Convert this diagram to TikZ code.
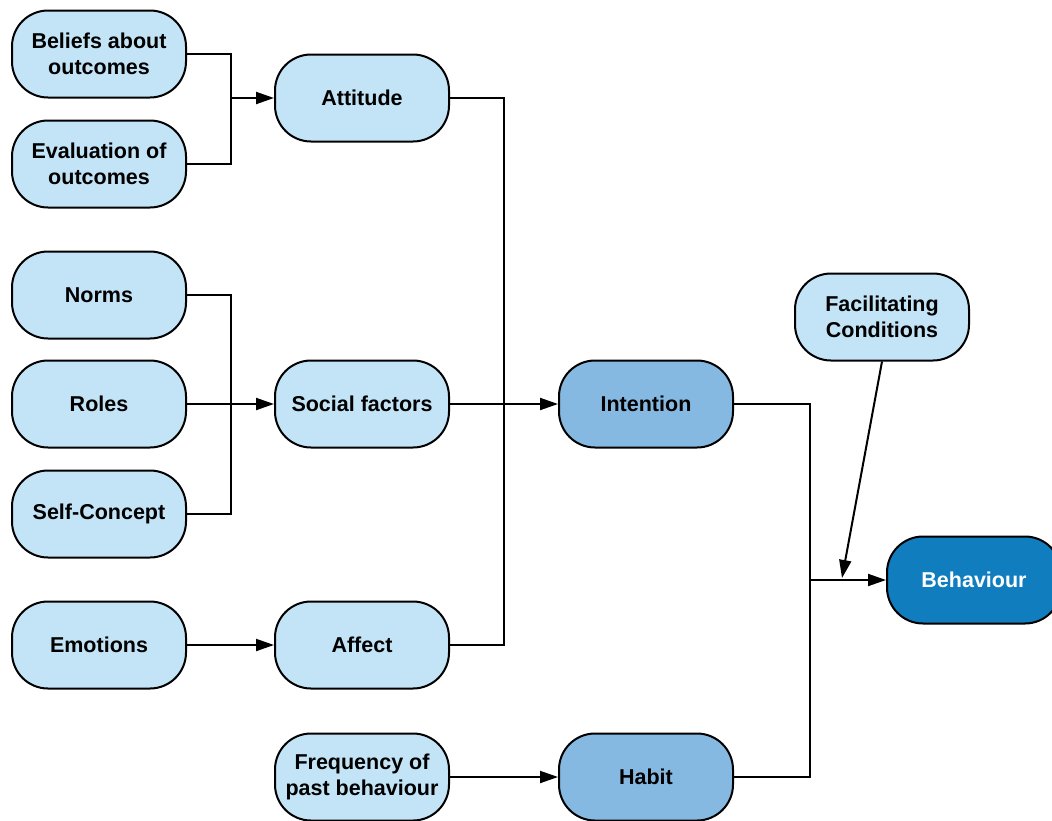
\documentclass[tikz,border=0pt]{standalone}
\usepackage{fontspec}
\setmainfont{Liberation Sans}
\usetikzlibrary{arrows.meta}
\definecolor{paleblue}{RGB}{194,228,246}
\definecolor{midblue}{RGB}{133,185,226}
\definecolor{deepblue}{RGB}{16,125,190}
\begin{document}
\begin{tikzpicture}[x=1pt,y=-1pt,
  box/.style={draw=black, line width=2pt, rounded corners=36pt,
    minimum width=174pt, minimum height=87pt, inner sep=0pt, align=center,
    font=\bfseries\fontsize{21.5}{25.5}\selectfont, fill=paleblue},
  midbox/.style={box, fill=midblue},
  deepbox/.style={box, fill=deepblue, text=white},
  conn/.style={line width=2pt},
  arr/.style={conn, -{Triangle[length=18pt,width=12pt]}}]
\useasboundingbox (0,0) rectangle (1052,820);

% nodes
\node[box] (beliefs) at (99,54) {Beliefs about\\outcomes};
\node[box] (evaluation) at (99,164) {Evaluation of\\outcomes};
\node[box] (attitude) at (362,98) {Attitude};
\node[box] (norms) at (99,295) {Norms};
\node[box] (roles) at (99,404) {Roles};
\node[box] (selfconcept) at (99,514) {Self-Concept};
\node[box] (social) at (362,404) {Social factors};
\node[box] (emotions) at (99,645) {Emotions};
\node[box] (affect) at (362,645) {Affect};
\node[midbox] (intention) at (646,404) {Intention};
\node[box] (frequency) at (362,777) {Frequency of\\past behaviour};
\node[midbox] (habit) at (646,777) {Habit};
\node[box] (facilitating) at (882,317) {Facilitating\\Conditions};
\node[deepbox] (behaviour) at (974,580) {Behaviour};

% junction points
\coordinate (jatt) at (231,98);
\coordinate (jsoc) at (231,404);
\coordinate (jint) at (504,404);
\coordinate (jbeh) at (810,580);
\coordinate (jfac) at (842,578);

% connectors
\draw[conn] (beliefs.east) -| (jatt);
\draw[conn] (evaluation.east) -| (jatt);
\draw[arr] (jatt) -- (attitude.west);

\draw[conn] (norms.east) -| (jsoc);
\draw[conn] (selfconcept.east) -| (jsoc);
\draw[arr] (roles.east) -- (social.west);

\draw[conn] (attitude.east) -| (jint);
\draw[conn] (affect.east) -| (jint);
\draw[arr] (social.east) -- (intention.west);

\draw[arr] (emotions.east) -- (affect.west);
\draw[arr] (frequency.east) -- (habit.west);

\draw[conn] (intention.east) -| (jbeh);
\draw[conn] (habit.east) -| (jbeh);
\draw[arr] (jbeh) -- (behaviour.west);

\draw[arr] (facilitating.south) -- (jfac);
\end{tikzpicture}
\end{document}
